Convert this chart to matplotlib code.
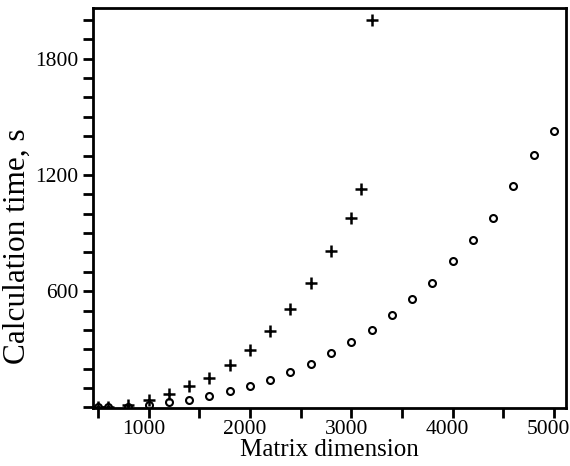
import matplotlib.pyplot as plt
from matplotlib.ticker import MultipleLocator
from matplotlib.transforms import ScaledTranslation

# matrix dimension vs calculation time (s)
dim_plus = [500, 600, 800, 1000, 1200, 1400, 1600, 1800, 2000, 2200, 2400,
            2600, 2800, 3000, 3100, 3200]
time_plus = [2, 4, 10, 40, 69, 109, 153, 221, 298, 393, 507,
             643, 805, 978, 1129, 2002]

dim_circ = [500, 600, 800, 1000, 1200, 1400, 1600, 1800, 2000, 2200, 2400,
            2600, 2800, 3000, 3200, 3400, 3600, 3800, 4000, 4200, 4400,
            4600, 4800, 5000]
time_circ = [0, 2, 4, 10, 26, 40, 57, 83, 110, 140, 181,
             226, 279, 336, 400, 476, 559, 643, 755, 865, 978,
             1145, 1302, 1429]

plt.rcParams['font.family'] = ['Liberation Serif', 'DejaVu Serif']

fig = plt.figure(figsize=(5.7, 4.66), dpi=100)
ax = fig.add_axes([0.163, 0.1245, 0.830, 0.8585])

ax.plot(dim_plus, time_plus, '+', color='black', markersize=8, mew=1.8)
ax.plot(dim_circ, time_circ, 'o', color='black', markersize=5,
        fillstyle='none', mew=1.5)

ax.set_xlim(450, 5120)
ax.set_ylim(-3, 2062)

ax.xaxis.set_major_locator(MultipleLocator(1000))
ax.xaxis.set_minor_locator(MultipleLocator(500))
ax.yaxis.set_minor_locator(MultipleLocator(100))
ax.set_yticks([600, 1200, 1800])

ax.tick_params(which='both', direction='out', length=7, width=2,
               labelsize=15.5, colors='black')
ax.tick_params(axis='x', pad=2)

# tick labels sit a little left of their ticks in the original
shift = ScaledTranslation(-5 / 100, 0, fig.dpi_scale_trans)
for lab in ax.get_xticklabels():
    lab.set_transform(lab.get_transform() + shift)

for s in ax.spines.values():
    s.set_linewidth(2)

ax.set_xlabel('Matrix dimension', fontsize=18, labelpad=0)
ax.set_ylabel('Calculation time, s', fontsize=22.5)
ax.yaxis.set_label_coords(-0.13, 0.405)

fig.savefig('out.png', dpi=100)
